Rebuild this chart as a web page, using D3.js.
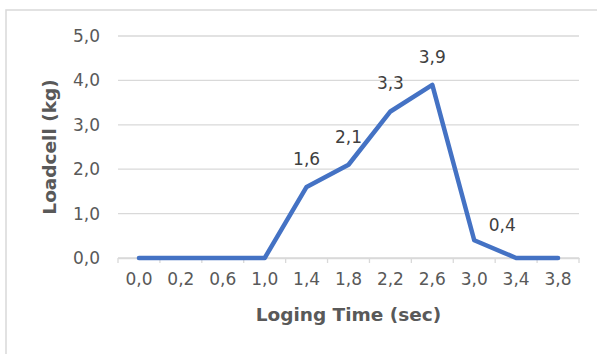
<!DOCTYPE html>
<html><head><meta charset="utf-8">
<script src="https://cdn.jsdelivr.net/npm/d3@7"></script>
<style>html,body{margin:0;padding:0;background:#fff;}svg{display:block;}</style>
</head><body>
<script>
const categories = ["0,0","0,2","0,6","1,0","1,4","1,8","2,2","2,6","3,0","3,4","3,8"];
const loadcell = [0, 0, 0, 0, 1.6, 2.1, 3.3, 3.9, 0.4, 0, 0];
const yTicks = [0, 1, 2, 3, 4, 5];
const xTitle = "Loging Time (sec)";
const yTitle = "Loadcell (kg)";

const W = 597, H = 354;
const m = {left: 118, right: 18, top: 36, bottom: 96};
const fmt = v => d3.format(".1f")(v).replace(".", ",");
const font = "'DejaVu Sans', Verdana, sans-serif";
const txt = "#595959";

const svg = d3.select("body").append("svg").attr("width", W).attr("height", H);
svg.append("rect").attr("x", 6).attr("y", 10).attr("width", 700).attr("height", 500)
  .attr("fill", "#fff").attr("stroke", "#d9d9d9").attr("stroke-width", 1.5);

const x = d3.scaleBand().domain(categories).range([m.left, W - m.right]).padding(0);
const y = d3.scaleLinear().domain([0, 5]).range([H - m.bottom, m.top]);

// gridlines
svg.append("g").selectAll("line").data(yTicks).join("line")
  .attr("x1", m.left).attr("x2", W - m.right)
  .attr("y1", d => y(d)).attr("y2", d => y(d))
  .attr("stroke", "#d9d9d9").attr("stroke-width", 1.3);

// y axis labels
const yAxis = svg.append("g").attr("transform", `translate(${m.left},0)`)
  .call(d3.axisLeft(y).tickValues(yTicks).tickFormat(fmt).tickSize(0).tickPadding(18));
yAxis.select(".domain").remove();
yAxis.selectAll("text").attr("font-family", font).attr("font-size", 17).attr("fill", txt);

// x axis
const xAxis = svg.append("g").attr("transform", `translate(0,${y(0)})`)
  .call(d3.axisBottom(x).tickSize(0).tickPadding(15));
xAxis.select(".domain").attr("stroke", "#d9d9d9").attr("stroke-width", 1.3);
xAxis.selectAll("text").attr("font-family", font).attr("font-size", 17).attr("fill", txt);
const bounds = categories.map(c => x(c)).concat([x(categories[categories.length - 1]) + x.bandwidth()]);
svg.append("g").selectAll("line").data(bounds).join("line")
  .attr("x1", d => d).attr("x2", d => d).attr("y1", y(0)).attr("y2", y(0) + 5)
  .attr("stroke", "#d9d9d9").attr("stroke-width", 1.3);

// line
const cx = (d, i) => x(categories[i]) + x.bandwidth() / 2;
svg.append("path").datum(loadcell)
  .attr("d", d3.line().x(cx).y(d => y(d)))
  .attr("fill", "none").attr("stroke", "#4472C4").attr("stroke-width", 4.5)
  .attr("stroke-linejoin", "round").attr("stroke-linecap", "round");

// data labels (non-zero points; the last one sits to the right, as in the original)
const labelDx = i => (i === 8 ? 28 : 0);
const labelDy = i => (i === 8 ? -9 : -22);
svg.append("g").selectAll("text").data(loadcell.map((v, i) => ({v, i})).filter(d => d.v > 0)).join("text")
  .attr("x", d => cx(d.v, d.i) + labelDx(d.i)).attr("y", d => y(d.v) + labelDy(d.i))
  .attr("text-anchor", "middle").attr("font-family", font).attr("font-size", 17).attr("fill", "#404040")
  .text(d => fmt(d.v));

// titles
svg.append("text").attr("x", (m.left + W - m.right) / 2).attr("y", 321)
  .attr("text-anchor", "middle").attr("font-family", font).attr("font-weight", "bold")
  .attr("font-size", 18.5).attr("fill", txt).text(xTitle);
svg.append("text").attr("transform", `translate(56,${(y(0) + y(5)) / 2}) rotate(-90)`)
  .attr("text-anchor", "middle").attr("font-family", font).attr("font-weight", "bold")
  .attr("font-size", 18.5).attr("fill", txt).text(yTitle);
</script>
</body></html>
